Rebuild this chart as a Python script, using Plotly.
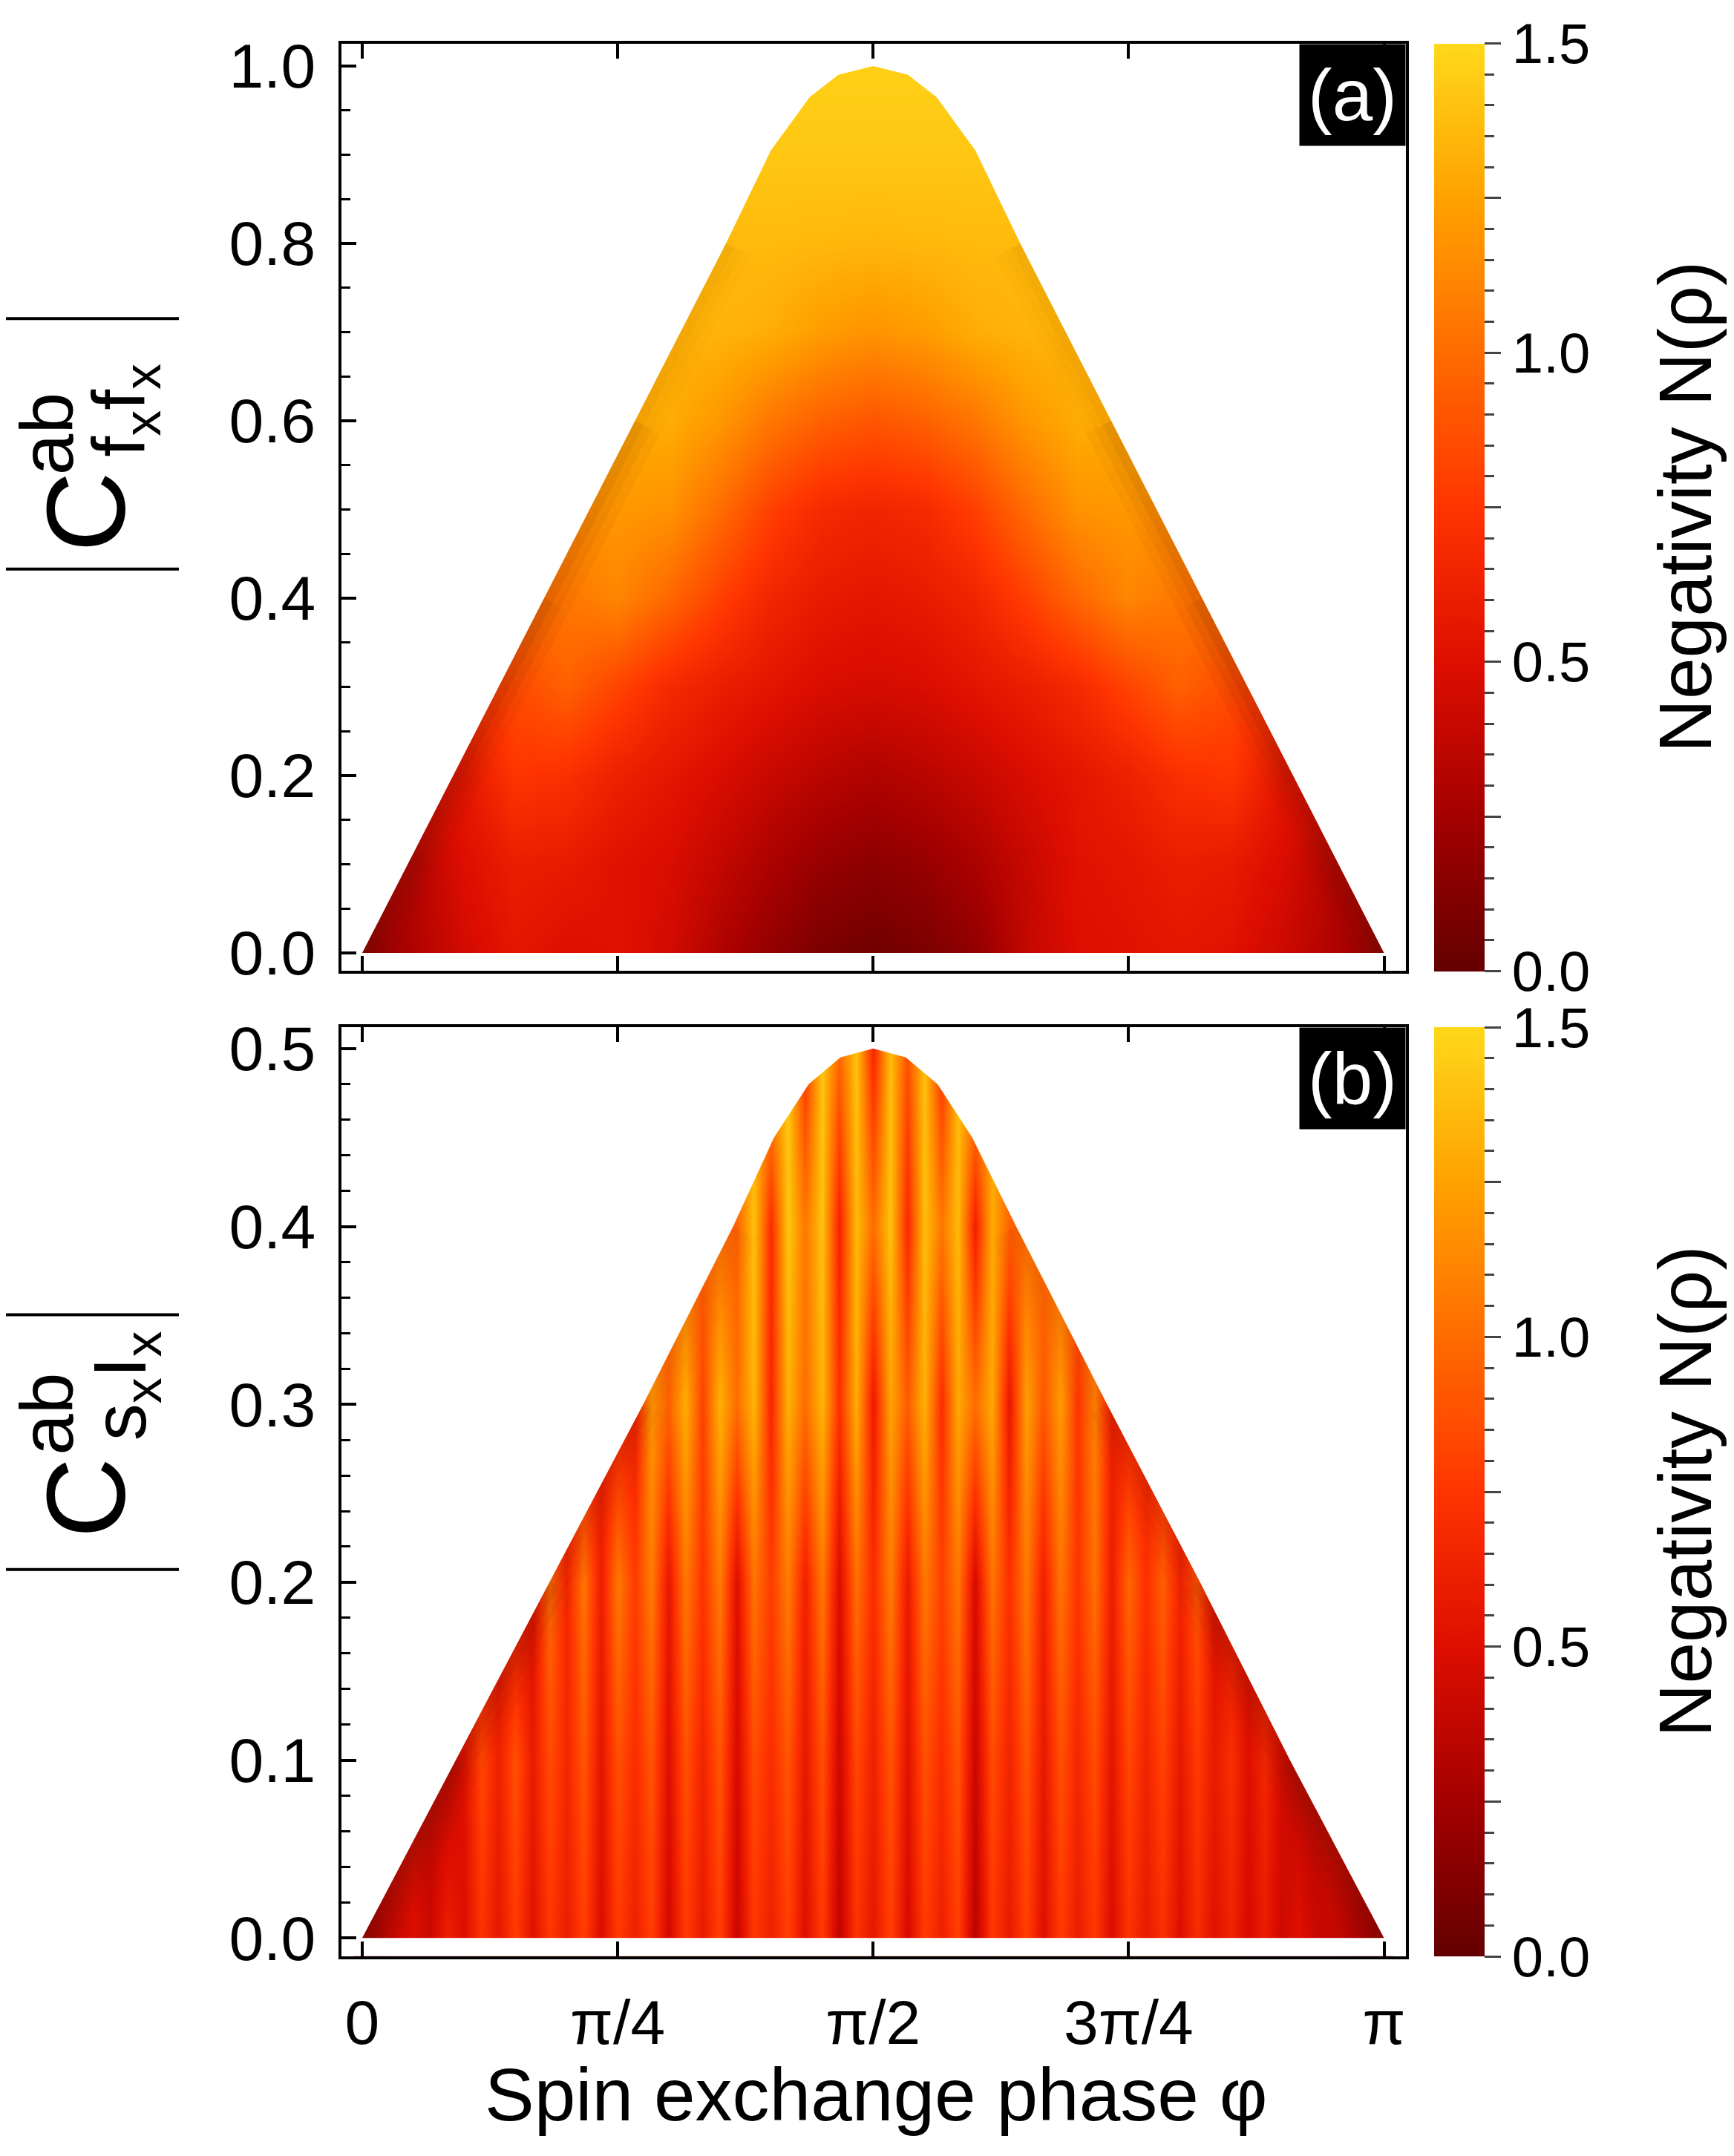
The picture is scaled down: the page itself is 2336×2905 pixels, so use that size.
import math
import plotly.graph_objects as go

PI = math.pi
W, H = 2336, 2905

# ---- panel (a): negativity over (phi, |C_fxfx|) ----
# phi in units of pi, |C| levels
PHI_A = [0.0, 0.05, 0.1, 0.15, 0.2, 0.25, 0.3, 0.35, 0.4, 0.45, 0.5,
         0.55, 0.6, 0.65, 0.7, 0.75, 0.8, 0.85, 0.9, 0.95, 1.0]
CORR_A = [0.0, 0.1, 0.2, 0.3, 0.4, 0.5, 0.6, 0.7, 0.8, 0.9, 1.0]
NEG_A = [
    [0.15, 0.30, 0.45, 0.55, 0.50, 0.52, 0.45, 0.30, 0.18, 0.09, 0.05, 0.09, 0.18, 0.38, 0.50, 0.52, 0.55, 0.52, 0.42, 0.30, 0.15],
    [0.30, 0.32, 0.50, 0.60, 0.58, 0.52, 0.48, 0.38, 0.28, 0.20, 0.16, 0.20, 0.28, 0.40, 0.52, 0.55, 0.60, 0.58, 0.48, 0.32, 0.30],
    [0.50, 0.50, 0.55, 0.75, 0.72, 0.62, 0.55, 0.48, 0.40, 0.34, 0.30, 0.34, 0.40, 0.48, 0.55, 0.62, 0.72, 0.75, 0.55, 0.50, 0.50],
    [0.75, 0.75, 0.75, 0.85, 0.95, 0.82, 0.68, 0.60, 0.54, 0.48, 0.46, 0.48, 0.54, 0.60, 0.68, 0.82, 0.95, 0.85, 0.75, 0.75, 0.75],
    [1.00, 1.00, 1.00, 1.00, 1.05, 1.12, 0.98, 0.80, 0.65, 0.58, 0.55, 0.58, 0.65, 0.80, 0.98, 1.12, 1.05, 1.00, 1.00, 1.00, 1.00],
    [1.15, 1.15, 1.15, 1.15, 1.15, 1.20, 1.18, 1.00, 0.80, 0.68, 0.65, 0.68, 0.80, 1.00, 1.18, 1.20, 1.15, 1.15, 1.15, 1.15, 1.15],
    [1.28, 1.28, 1.28, 1.28, 1.28, 1.28, 1.30, 1.20, 1.05, 0.95, 0.90, 0.95, 1.05, 1.20, 1.30, 1.28, 1.28, 1.28, 1.28, 1.28, 1.28],
    [1.33, 1.33, 1.33, 1.33, 1.33, 1.33, 1.33, 1.33, 1.30, 1.22, 1.18, 1.22, 1.30, 1.33, 1.33, 1.33, 1.33, 1.33, 1.33, 1.33, 1.33],
    [1.36, 1.36, 1.36, 1.36, 1.36, 1.36, 1.36, 1.36, 1.36, 1.35, 1.34, 1.35, 1.36, 1.36, 1.36, 1.36, 1.36, 1.36, 1.36, 1.36, 1.36],
    [1.42, 1.42, 1.42, 1.42, 1.42, 1.42, 1.42, 1.42, 1.42, 1.42, 1.42, 1.42, 1.42, 1.42, 1.42, 1.42, 1.42, 1.42, 1.42, 1.42, 1.42],
    [1.46, 1.46, 1.46, 1.46, 1.46, 1.46, 1.46, 1.46, 1.46, 1.46, 1.46, 1.46, 1.46, 1.46, 1.46, 1.46, 1.46, 1.46, 1.46, 1.46, 1.46],
]
# upper edge of the allowed region
EDGE_A_PHI = [0.0, 0.178, 0.267, 0.356, 0.40, 0.438, 0.466, 0.5, 0.534, 0.562, 0.60, 0.644, 0.733, 0.822, 1.0]
EDGE_A_C = [0.0, 0.40, 0.60, 0.80, 0.905, 0.965, 0.99, 1.0, 0.99, 0.965, 0.905, 0.80, 0.60, 0.40, 0.0]

# ---- panel (b): negativity over (phi, |C_sxIx|) ----
PHI_B = [0.0, 0.0167, 0.0333, 0.05, 0.0667, 0.0833, 0.1, 0.1167, 0.1333, 0.15,
         0.1667, 0.1833, 0.2, 0.2167, 0.2333, 0.25, 0.2667, 0.2833, 0.3, 0.3167,
         0.3333, 0.35, 0.3667, 0.3833, 0.4, 0.4167, 0.4333, 0.45, 0.4667, 0.4833,
         0.5, 0.5167, 0.5333, 0.55, 0.5667, 0.5833, 0.6, 0.6167, 0.6333, 0.65,
         0.6667, 0.6833, 0.7, 0.7167, 0.7333, 0.75, 0.7667, 0.7833, 0.8, 0.8167,
         0.8333, 0.85, 0.8667, 0.8833, 0.9, 0.9167, 0.9333, 0.95, 0.9667, 0.9833, 1.0]
CORR_B = [0.0, 0.1, 0.2, 0.3, 0.4, 0.5]
NEG_B_00 = [0.20, 0.30, 0.40, 0.50, 0.42, 0.62, 0.50, 0.74, 0.56, 0.78, 0.52, 0.76, 0.60, 0.80, 0.48, 0.78,
            0.62, 0.80, 0.44, 0.78, 0.58, 0.80, 0.40, 0.76, 0.62, 0.80, 0.50, 0.78, 0.36, 0.74, 0.56,
            0.80, 0.46, 0.78, 0.62, 0.80, 0.34, 0.76, 0.58, 0.80, 0.50, 0.78, 0.60, 0.76, 0.48, 0.74,
            0.58, 0.72, 0.50, 0.70, 0.52, 0.64, 0.46, 0.60, 0.42, 0.52, 0.40, 0.40, 0.32, 0.26, 0.20]
NEG_B_01 = [0.35, 0.35, 0.35, 0.35, 0.35, 0.35, 0.52, 0.84, 0.62, 0.88, 0.58, 0.86, 0.66, 0.90, 0.54, 0.88,
            0.70, 0.90, 0.50, 0.88, 0.64, 0.90, 0.46, 0.86, 0.70, 0.90, 0.56, 0.88, 0.42, 0.84, 0.62,
            0.90, 0.52, 0.88, 0.70, 0.90, 0.40, 0.86, 0.64, 0.90, 0.56, 0.88, 0.66, 0.86, 0.54, 0.84,
            0.64, 0.82, 0.56, 0.78, 0.58, 0.72, 0.50, 0.66, 0.46, 0.35, 0.35, 0.35, 0.35, 0.35, 0.35]
NEG_B_02 = [0.50, 0.50, 0.50, 0.50, 0.50, 0.50, 0.50, 0.50, 0.50, 0.50, 0.50, 1.00, 0.66, 1.04, 0.60, 1.06,
            0.78, 1.08, 0.56, 1.06, 0.74, 1.08, 0.50, 1.04, 0.78, 1.08, 0.62, 1.06, 0.48, 1.02, 0.70,
            1.08, 0.58, 1.06, 0.80, 1.06, 0.46, 1.04, 0.72, 1.06, 0.62, 1.04, 0.74, 1.02, 0.60, 0.98,
            0.72, 0.94, 0.64, 0.90, 0.50, 0.50, 0.50, 0.50, 0.50, 0.50, 0.50, 0.50, 0.50, 0.50, 0.50]
NEG_B_03 = [0.62, 0.62, 0.62, 0.62, 0.62, 0.62, 0.62, 0.62, 0.62, 0.62, 0.62, 0.62, 0.62, 0.62, 0.62, 0.62,
            0.62, 1.20, 0.95, 1.30, 0.80, 1.32, 1.00, 1.34, 0.66, 1.32, 1.00, 1.34, 0.72, 1.30, 0.58,
            1.26, 0.92, 1.32, 0.70, 1.28, 1.00, 1.28, 0.56, 1.24, 0.90, 1.22, 0.75, 1.10, 0.62, 0.62,
            0.62, 0.62, 0.62, 0.62, 0.62, 0.62, 0.62, 0.62, 0.62, 0.62, 0.62, 0.62, 0.62, 0.62, 0.62]
NEG_B_04 = [1.00, 1.00, 1.00, 1.00, 1.00, 1.00, 1.00, 1.00, 1.00, 1.00, 1.00, 1.00, 1.00, 1.00, 1.00, 1.00,
            1.00, 1.00, 1.00, 1.00, 1.00, 1.00, 0.95, 1.40, 0.70, 1.42, 1.05, 1.40, 0.64, 1.36, 1.00,
            1.40, 0.68, 1.38, 1.05, 1.36, 0.62, 1.30, 0.95, 1.00, 1.00, 1.00, 1.00, 1.00, 1.00, 1.00,
            1.00, 1.00, 1.00, 1.00, 1.00, 1.00, 1.00, 1.00, 1.00, 1.00, 1.00, 1.00, 1.00, 1.00, 1.00]
NEG_B_05 = [1.25, 1.25, 1.25, 1.25, 1.25, 1.25, 1.25, 1.25, 1.25, 1.25, 1.25, 1.25, 1.25, 1.25, 1.25, 1.25,
            1.25, 1.25, 1.25, 1.25, 1.25, 1.25, 1.25, 1.25, 1.25, 1.42, 0.74, 1.42, 0.98, 1.40, 0.66,
            1.38, 0.88, 1.40, 0.72, 1.38, 1.25, 1.25, 1.25, 1.25, 1.25, 1.25, 1.25, 1.25, 1.25, 1.25,
            1.25, 1.25, 1.25, 1.25, 1.25, 1.25, 1.25, 1.25, 1.25, 1.25, 1.25, 1.25, 1.25, 1.25, 1.25]
NEG_B = [NEG_B_00, NEG_B_01, NEG_B_02, NEG_B_03, NEG_B_04, NEG_B_05]
EDGE_B_PHI = [0.0, 0.0915, 0.183, 0.275, 0.363, 0.403, 0.437, 0.468, 0.5, 0.532, 0.563, 0.597, 0.640, 0.729, 0.820, 0.908, 1.0]
EDGE_B_C = [0.0, 0.1, 0.2, 0.3, 0.4, 0.45, 0.48, 0.495, 0.5, 0.495, 0.48, 0.45, 0.4, 0.3, 0.2, 0.1, 0.0]

X_TICKS = [0, 0.25, 0.5, 0.75, 1.0]
X_TICKTEXT = ["0", "π/4", "π/2", "3π/4", "π"]

SOLAR = [[0.0, "#640000"], [0.1667, "#a40000"], [0.3333, "#de0e00"], [0.5, "#ff3400"],
         [0.6667, "#ff6c00"], [0.8333, "#ffa200"], [1.0, "#ffd81a"]]
FONT = "Liberation Sans, Arial, sans-serif"

XR = [-0.0203 * PI, 1.0214 * PI]
YR_A = [-0.0201, 1.0254]
YR_B = [-0.0101, 0.512]
OFF = 8  # page body margin


def px(x):
    return (x - OFF) / W


def py(y):
    return 1 - (y - OFF) / H


def heat(phi, corr, z, xa, ya, top, bottom, major):
    bar = dict(
        x=px(1932), xanchor="left", xpad=0, ypad=0,
        y=py(top), yanchor="top", len=(bottom - top) / H, lenmode="fraction",
        thickness=68, outlinewidth=0, ticks="outside", tickwidth=3,
        tickfont=dict(size=76, color="black", family=FONT),
    )
    if major:
        bar.update(tickmode="linear", tick0=0, dtick=0.25, ticklabelstep=2,
                   tickformat=".1f", ticklen=22)
    else:
        bar.update(tickmode="linear", tick0=0, dtick=0.05, ticklen=13, showticklabels=False)
    return go.Heatmap(
        x=[p * PI for p in phi], y=corr, z=z, xaxis=xa, yaxis=ya,
        colorscale=SOLAR, zmin=0, zmax=1.5, zsmooth="best",
        opacity=0 if major else 1, colorbar=bar, hoverinfo="skip",
    )


def edge_shade(phi, c, idx_pairs, fades, xa, ya):
    # soft darkening just inside the lower flanks, fading upward
    out = []
    for (i, j), f in zip(idx_pairs, fades):
        for width, alpha in [(76, 0.06), (50, 0.08), (26, 0.10)]:
            out.append(go.Scatter(x=[phi[i] * PI, phi[j] * PI], y=[c[i], c[j]], xaxis=xa, yaxis=ya,
                                  mode="lines", line=dict(color=f"rgba(90,30,0,{alpha * f:.3f})", width=width),
                                  hoverinfo="skip", showlegend=False))
    return out


def mask(edge_phi, edge_c, yr, xa, ya):
    lo, hi = XR[0] - 0.2, XR[1] + 0.2
    top, bot = yr[1] + 0.1, yr[0] - 0.1
    xs = [lo] + [p * PI for p in edge_phi] + [hi, hi, lo, lo, None, lo, hi, hi, lo, lo]
    ys = [0] + list(edge_c) + [0, top, top, 0, None, bot, bot, 0, 0, bot]
    return go.Scatter(x=xs, y=ys, xaxis=xa, yaxis=ya, mode="lines", fill="toself",
                      fillcolor="white", line=dict(width=0, color="white"),
                      hoverinfo="skip", showlegend=False)


fig = go.Figure()
fig.add_trace(heat(PHI_A, CORR_A, NEG_A, "x", "y", 42, 1309, False))
fig.add_trace(heat(PHI_A, CORR_A, NEG_A, "x", "y", 42, 1309, True))
fig.add_traces(edge_shade(EDGE_A_PHI, EDGE_A_C, [(0, 1), (1, 2), (2, 3), (14, 13), (13, 12), (12, 11)],
                          [1.0, 0.7, 0.3, 1.0, 0.7, 0.3], "x", "y"))
fig.add_trace(mask(EDGE_A_PHI, EDGE_A_C, YR_A, "x", "y"))

fig.add_trace(heat(PHI_B, CORR_B, NEG_B, "x2", "y2", 1386, 2655, False))
fig.add_trace(heat(PHI_B, CORR_B, NEG_B, "x2", "y2", 1386, 2655, True))
fig.add_traces(edge_shade(EDGE_B_PHI, EDGE_B_C, [(0, 1), (1, 2), (2, 3), (3, 4), (16, 15), (15, 14), (14, 13), (13, 12)],
                          [1.0, 0.85, 0.55, 0.25, 1.0, 0.85, 0.55, 0.25], "x2", "y2"))
fig.add_trace(mask(EDGE_B_PHI, EDGE_B_C, YR_B, "x2", "y2"))

frame = dict(showline=True, linecolor="black", linewidth=4, showgrid=False, zeroline=False,
             ticks="inside", tickwidth=4, tickcolor="black", ticklen=20,
             tickfont=dict(size=84, color="black", family=FONT))

fig.update_layout(
    width=W, height=H, margin=dict(l=0, r=0, t=0, b=0),
    paper_bgcolor="white", plot_bgcolor="white", showlegend=False,
    font=dict(family=FONT, color="black"),
    xaxis=dict(frame, domain=[px(460), px(1894)], anchor="y", range=XR, mirror="ticks",
               tickmode="array", tickvals=[t * PI for t in X_TICKS], showticklabels=False),
    yaxis=dict(frame, domain=[py(1309), py(42)], anchor="x", range=YR_A, mirror=True,
               dtick=0.2, tick0=0, tickformat=".1f", ticklabelstandoff=14,
               minor=dict(ticks="inside", dtick=0.05, tick0=0, ticklen=12, tickwidth=3, tickcolor="black")),
    xaxis2=dict(frame, domain=[px(460), px(1894)], anchor="y2", range=XR, mirror="ticks",
                tickmode="array", tickvals=[t * PI for t in X_TICKS], ticktext=X_TICKTEXT,
                ticklabelstandoff=14),
    yaxis2=dict(frame, domain=[py(2655), py(1386)], anchor="x2", range=YR_B, mirror=True,
                dtick=0.1, tick0=0, tickformat=".1f", ticklabelstandoff=14,
                minor=dict(ticks="inside", dtick=0.02, tick0=0, ticklen=12, tickwidth=3, tickcolor="black")),
)

# panel tags
for tag, xa, ya in [("(a)", "x", "y"), ("(b)", "x2", "y2")]:
    fig.add_annotation(text=tag, xref=f"{xa} domain", yref=f"{ya} domain", x=1, y=1,
                       xanchor="right", yanchor="top", showarrow=False, bgcolor="black",
                       width=140, height=134, font=dict(size=98, color="white", family=FONT))


def label(text, x, y, size, angle=-90):
    fig.add_annotation(text=text, x=px(x), y=py(y), xref="paper", yref="paper", textangle=angle,
                       xanchor="center", yanchor="middle", showarrow=False,
                       font=dict(size=size, family=FONT, color="black"))


# y-axis titles, built from pieces
titles = [
    (682, 576, 543, "f<sub>x</sub>f<sub>x</sub>", 418, 760),
    (2029, 1915, 1876, "s<sub>x</sub>I<sub>x</sub>", 1779, 2127),
]
for yc, yab, ysub, sub, bar1, bar2 in titles:
    label("C", 116, yc, 150)
    label("ab", 63, yab, 100)
    label(sub, 168, ysub, 100)
    for yy in (bar1, bar2):
        fig.add_shape(type="line", xref="paper", yref="paper", x0=px(8), x1=px(241),
                      y0=py(yy), y1=py(yy), line=dict(color="black", width=4))

# colour bar titles
for yc in [(42 + 1309) / 2, (1386 + 2655) / 2]:
    label("Negativity N(ρ)", 2270, yc, 100)

label("Spin exchange phase φ", 1180, 2844, 100, angle=0)

fig.write_html("out.html")
